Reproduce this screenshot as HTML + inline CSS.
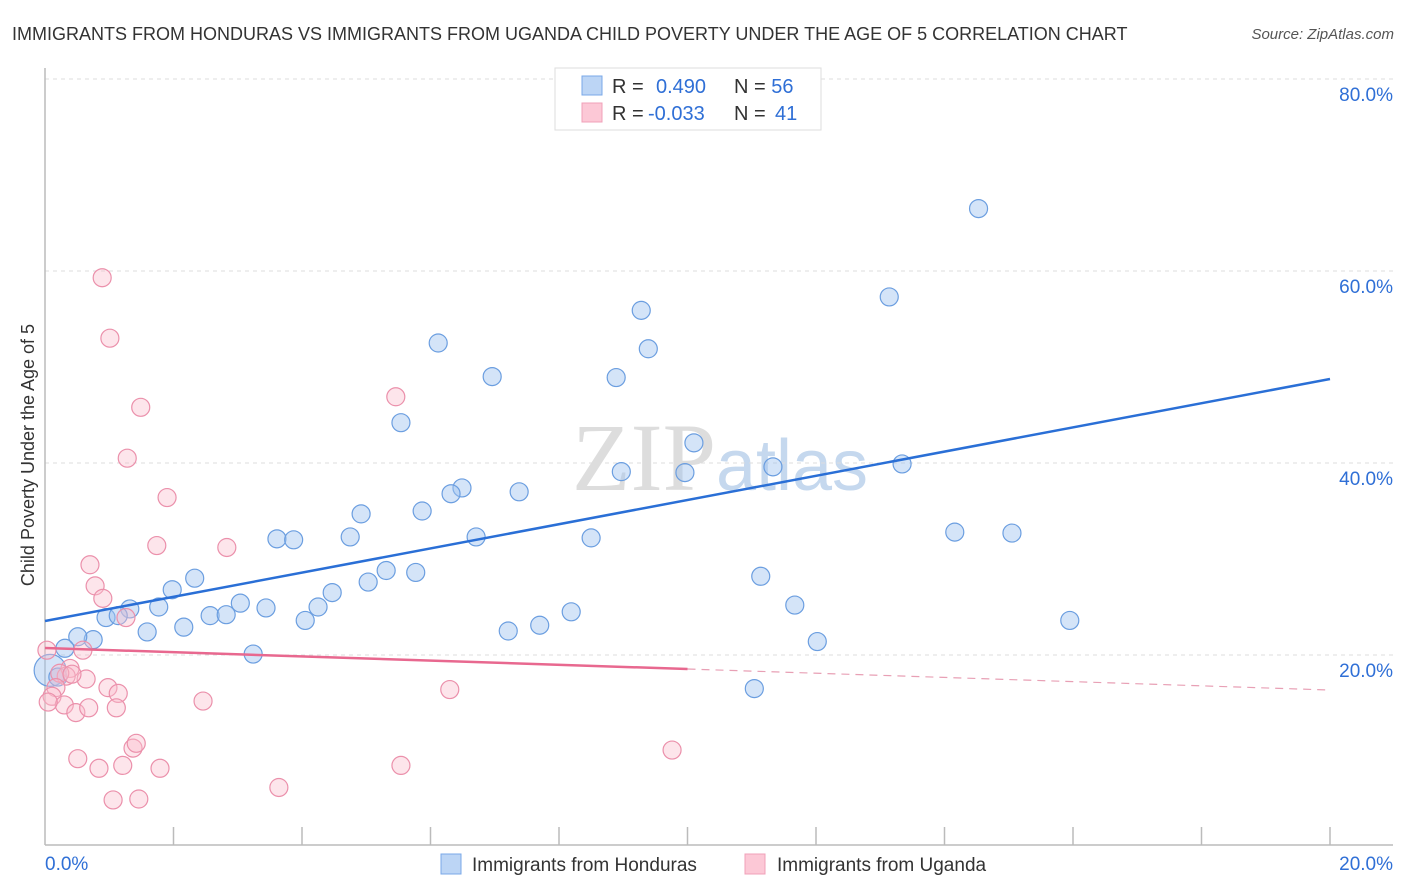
<!DOCTYPE html>
<html><head><meta charset="utf-8"><style>
body{margin:0;background:#fff;font-family:"Liberation Sans",sans-serif}
svg{display:block}
</style></head><body>
<svg id="c" width="1406" height="892">
<text x="12" y="40" font-size="18" fill="#333">IMMIGRANTS FROM HONDURAS VS IMMIGRANTS FROM UGANDA CHILD POVERTY UNDER THE AGE OF 5 CORRELATION CHART</text>
<text x="1394" y="39" font-size="15" fill="#555" font-style="italic" text-anchor="end">Source: ZipAtlas.com</text>
<text x="720" y="490" font-size="96" fill="#ddd" text-anchor="middle" font-family="Liberation Serif,serif">ZIP<tspan fill="#c5d8ee" font-family="Liberation Sans,sans-serif" font-size="72">atlas</tspan></text>
<text transform="translate(34,455) rotate(-90)" font-size="18" fill="#333" text-anchor="middle">Child Poverty Under the Age of 5</text>
<g id="grid"></g><g id="pts"></g><g id="lines"></g>
<g>
<rect x="555" y="68" width="266" height="62" fill="#fff" stroke="#ddd"/>
<rect x="582" y="76" width="20" height="19" fill="#bcd5f5" stroke="#7aa8e8"/>
<rect x="582" y="103" width="20" height="19" fill="#fcc8d6" stroke="#f0a0b8"/>
<text x="612" y="93" font-size="20" fill="#333">R = <tspan x="656" fill="#2f6fd6">0.490</tspan><tspan x="734" fill="#333">N = </tspan><tspan fill="#2f6fd6">56</tspan></text>
<text x="612" y="120" font-size="20" fill="#333">R = <tspan x="648" fill="#2f6fd6">-0.033</tspan><tspan x="734" fill="#333">N = </tspan><tspan x="775" fill="#2f6fd6">41</tspan></text>
</g>
<g>
<rect x="441" y="854" width="20" height="20" fill="#bcd5f5" stroke="#7aa8e8"/>
<text x="472" y="871" font-size="19" fill="#333">Immigrants from Honduras</text>
<rect x="745" y="854" width="20" height="20" fill="#fcc8d6" stroke="#f0a0b8"/>
<text x="777" y="871" font-size="19" fill="#333">Immigrants from Uganda</text>
</g>
<text x="45" y="870" font-size="19" fill="#2f6fd6">0.0%</text>
<text x="1393" y="870" font-size="19" fill="#2f6fd6" text-anchor="end">20.0%</text>
</svg>
<script>
const yTicks=[20,40,60,80];
const yTickLabels=["20.0%","40.0%","60.0%","80.0%"];
const xTicks=[2,4,6,8,10,12,14,16,18,20];
const hondX=[14.53,13.14,9.28,9.39,6.12,6.96,8.89,5.54,10.10,8.97,9.96,11.33,13.34,6.49,6.32,7.38,5.87,4.92,4.75,6.71,8.50,3.61,3.87,14.16,15.05,5.31,5.77,5.03,11.14,2.33,1.98,4.47,3.04,1.77,3.44,4.25,11.67,8.19,1.32,0.95,1.14,2.57,2.82,4.05,2.16,1.59,7.70,7.21,15.95,12.02,3.24,0.75,0.51,0.31,11.04,0.08,0.20];
const hondY=[66.5,57.3,55.9,51.9,52.5,49.0,48.9,44.2,42.1,39.1,39.0,39.6,39.9,37.4,36.8,37.0,35.0,34.7,32.3,32.3,32.2,32.1,32.0,32.8,32.7,28.8,28.6,27.6,28.2,28.0,26.8,26.5,25.4,25.0,24.9,25.0,25.2,24.5,24.8,23.9,24.1,24.1,24.2,23.6,22.9,22.4,23.1,22.5,23.6,21.4,20.1,21.6,21.9,20.7,16.5,18.4,17.7];
const ugX=[0.89,1.01,1.49,1.28,1.90,5.46,1.74,2.83,0.70,0.78,0.90,1.26,6.30,2.46,0.59,0.39,0.33,0.23,0.17,0.11,0.64,0.98,1.14,0.30,0.48,0.68,1.11,0.42,0.03,0.51,0.84,1.37,1.42,1.21,1.79,1.06,1.46,3.64,5.54,9.76,0.05];
const ugY=[59.3,53.0,45.8,40.5,36.4,46.9,31.4,31.2,29.4,27.2,25.9,23.9,16.4,15.2,20.5,18.6,17.8,18.1,16.6,15.7,17.5,16.6,16.0,14.8,14.0,14.5,14.5,18.0,20.5,9.2,8.2,10.3,10.8,8.5,8.2,4.9,5.0,6.2,8.5,10.1,15.1];
const trendHond=[23.54,48.75];
const trendUg=[20.73,16.35];
const ugSolidEnd=10;
const NS="http://www.w3.org/2000/svg";
const X=v=>45+v/20*1285, Y=v=>847-v*9.6;
function mk(t,a,p){const e=document.createElementNS(NS,t);for(const k in a)e.setAttribute(k,a[k]);p.appendChild(e);return e;}
const g=document.getElementById('grid');
yTicks.forEach((t,i)=>{
 const l=mk('line',{x1:45,x2:1393,y1:Y(t),y2:Y(t),stroke:'#ddd','stroke-dasharray':'4,4'},g);
 
 
 const tx=mk('text',{x:1393,y:Y(t)+22,'font-size':19,fill:'#2f6fd6','text-anchor':'end'},g);
 tx.textContent=yTickLabels[i];
 
 
});
const ax=mk('line',{x1:45,x2:1393,y1:845,y2:845,stroke:'#bbb','stroke-width':1.5},g);


const ay=mk('line',{x1:45,x2:45,y1:68,y2:845,stroke:'#bbb','stroke-width':1.5},g);


xTicks.forEach(t=>{
 const l=mk('line',{x1:X(t),x2:X(t),y1:827,y2:845,stroke:'#bbb','stroke-width':1.5},g);
 
 
});
const p=document.getElementById('pts');
hondX.forEach((v,i)=>{
 const r=(i>=hondX.length-2)?(i==hondX.length-2?16:9):9;
 const c=mk('circle',{cx:X(v),cy:Y(hondY[i]),r:i==hondX.length-2?16:9,fill:'rgba(160,196,240,0.45)',stroke:'#6b9ee0','stroke-width':1.2},p);
 
 
});
ugX.forEach((v,i)=>{
 const c=mk('circle',{cx:X(v),cy:Y(ugY[i]),r:9,fill:'rgba(250,190,206,0.4)',stroke:'#eb90ab','stroke-width':1.2},p);
 
 
});
const L=document.getElementById('lines');
const t1=mk('line',{x1:X(0),y1:Y(trendHond[0]),x2:X(20),y2:Y(trendHond[1]),stroke:'#2a6fd6','stroke-width':2.5},L);


const ym=trendUg[0]+(trendUg[1]-trendUg[0])*ugSolidEnd/20;
const t2=mk('line',{x1:X(0),y1:Y(trendUg[0]),x2:X(ugSolidEnd),y2:Y(ym),stroke:'#e8688f','stroke-width':2.5},L);


const t3=mk('line',{x1:X(ugSolidEnd),y1:Y(ym),x2:X(20),y2:Y(trendUg[1]),stroke:'#e8a0b5','stroke-width':1.2,'stroke-dasharray':'8,6'},L);


</script>
</body></html>
